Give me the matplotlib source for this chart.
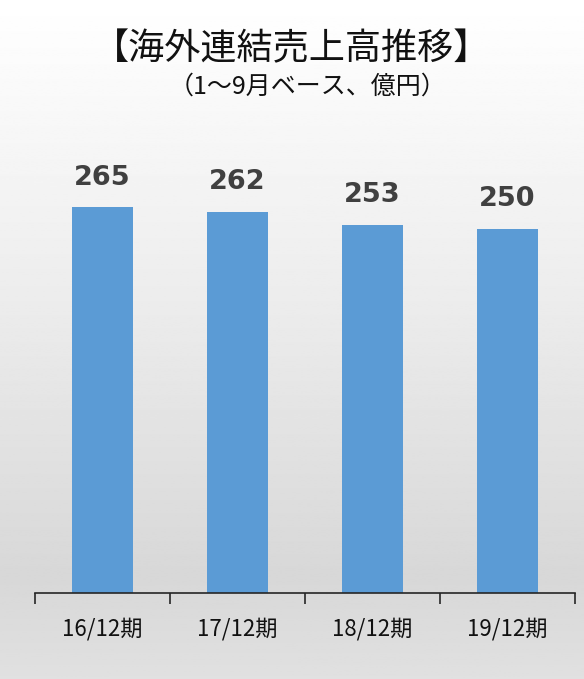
import numpy as np
import matplotlib.pyplot as plt

plt.rcParams['font.family'] = ['Noto Sans CJK JP', 'DejaVu Sans']

categories = ['16/12期', '17/12期', '18/12期', '19/12期']
sales = [265, 262, 253, 250]
title = '【海外連結売上高推移】'
subtitle = '（1～9月ベース、億円）'

fig = plt.figure(figsize=(5.84, 6.79), dpi=100)

# background gradient (white at top, light grey lower down)
bg = fig.add_axes([0, 0, 1, 1], zorder=-10)
ys = np.linspace(0, 1, 400)
shade = np.interp(ys, [0, 0.45, 0.85, 1.0], [1.0, 0.925, 0.845, 0.88])
bg.imshow(shade[:, None], aspect='auto', cmap='gray', vmin=0, vmax=1,
          extent=[0, 1, 1, 0])
bg.axis('off')

ax = fig.add_axes([0.06, 0.1267, 0.9246, 0.643])
ax.patch.set_alpha(0)
x = np.arange(len(categories))
bars = ax.bar(x, sales, width=0.45, color='#5b9bd5')

for xi, v in zip(x, sales):
    ax.annotate(str(v), (xi, v), xytext=(0, 12), textcoords='offset points',
                ha='center', va='bottom', fontsize=19.5, fontweight='bold',
                color='#404040', family='DejaVu Sans')

ax.set_xlim(-0.5, len(categories) - 0.5)
ax.set_ylim(0, 300)
ax.set_yticks([])
for s in ['top', 'right', 'left']:
    ax.spines[s].set_visible(False)
ax.spines['bottom'].set_color('#262626')
ax.spines['bottom'].set_linewidth(1.2)

ax.set_xticks(np.arange(-0.5, len(categories), 1.0))
ax.set_xticklabels([])
ax.tick_params(axis='x', which='major', length=8, width=1.2, color='#262626',
               direction='out')
ax.set_xticks(x, minor=True)
ax.set_xticklabels(categories, minor=True, fontsize=16, color='#111111')
ax.tick_params(axis='x', which='minor', length=0, pad=18)

fig.text(0.5, 0.928, title, ha='center', va='center', fontsize=26,
         color='#111111')
fig.text(0.527, 0.873, subtitle, ha='center', va='center', fontsize=18,
         color='#111111')

fig.savefig('out.png', dpi=100)
